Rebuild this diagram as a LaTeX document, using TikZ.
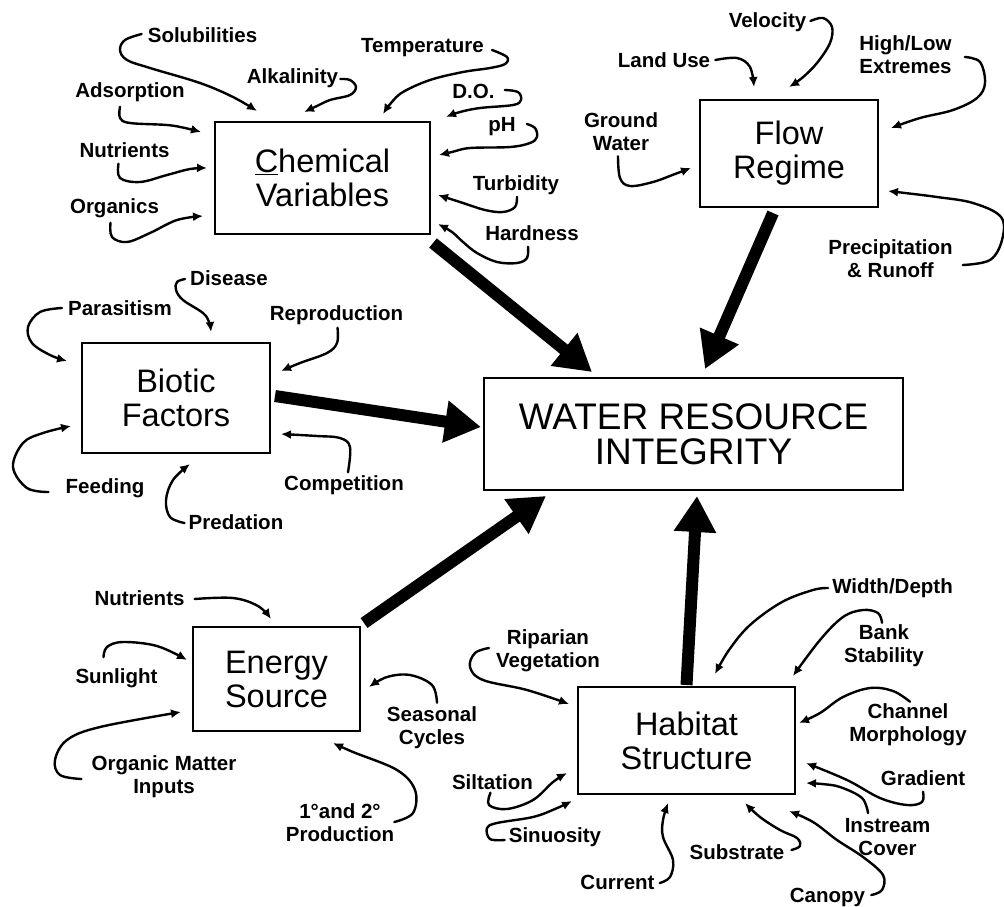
\documentclass[tikz,border=0pt]{standalone}
\usepackage{fontspec}
\setmainfont{Liberation Sans}
\usetikzlibrary{arrows.meta}
\begin{document}
\begin{tikzpicture}[x=1pt,y=-1pt,
  box/.style={draw, line width=2pt, inner sep=0pt, align=center, font=\fontsize{32.5}{34}\selectfont},
  lbl/.style={inner sep=0pt, align=center, font=\fontsize{20.5}{23}\selectfont\bfseries},
  curl/.style={line width=2.4pt, line cap=round, line join=round, -{Latex[length=10pt,width=9pt]}},
  big/.style={line width=12pt, -{Triangle[length=36pt,width=40pt]}}]
\path[fill=white, use as bounding box] (0,0) rectangle (1004,906);

% main boxes
\node[box, minimum width=215pt, minimum height=112pt] (chem) at (322.5,178) {\underline{C}hemical\\Variables};
\node[box, minimum width=178pt, minimum height=107pt] (flow) at (789,153.5) {Flow\\Regime};
\node[box, minimum width=188pt, minimum height=110pt] (biotic) at (176,398) {Biotic\\Factors};
\node[box, minimum width=419pt, minimum height=112pt, font=\fontsize{37}{35}\selectfont] (water) at (693.5,434) {WATER RESOURCE\\INTEGRITY};
\node[box, minimum width=167pt, minimum height=104pt] (energy) at (276.5,679) {Energy\\Source};
\node[box, minimum width=217pt, minimum height=107pt] (habitat) at (686.5,740.5) {Habitat\\Structure};

% thick arrows
\draw[big] ([shift={(2,8)}]chem.south east) -- ([shift={(109,-5)}]water.north west);
\draw[big] ([shift={(-16,5)}]flow.south) -- ([shift={(11.5,-8)}]water.north);
\draw[big] ([shift={(4,-2)}]biotic.east) -- ([shift={(-2,-7)}]water.west);
\draw[big] ([shift={(3,-3)}]energy.north east) -- ([shift={(63,5)}]water.south west);
\draw[big] ([shift={(0,-1)}]habitat.north) -- ([shift={(3.5,5)}]water.south);

% labels: chemical
\node[lbl] (sol) at (202.5,35) {Solubilities};
\node[lbl] (alk) at (292.5,78) {Alkalinity};
\node[lbl] (temp) at (422.5,48) {Temperature};
\node[lbl] (do) at (473.5,91) {D.O.};
\node[lbl] (ph) at (502,127) {pH};
\node[lbl] (turb) at (516,185) {Turbidity};
\node[lbl] (hard) at (532,233) {Hardness};
\node[lbl] (ads) at (130,92) {Adsorption};
\node[lbl] (nuta) at (124.5,150) {Nutrients};
\node[lbl] (org) at (114.5,208) {Organics};
% flow
\node[lbl] (vel) at (767.5,22) {Velocity};
\node[lbl] (land) at (664,60) {Land Use};
\node[lbl] (hilo) at (905.5,55) {High/Low\\Extremes};
\node[lbl] (gw) at (621,132) {Ground\\Water};
\node[lbl] (precip) at (890.5,259) {Precipitation\\\& Runoff};
% biotic
\node[lbl] (para) at (120,308) {Parasitism};
\node[lbl] (dis) at (229,278) {Disease};
\node[lbl] (repro) at (336.5,315) {Reproduction};
\node[lbl] (comp) at (344,485) {Competition};
\node[lbl] (pred) at (236,522) {Predation};
\node[lbl] (feedl) at (105,488) {Feeding};
% energy
\node[lbl] (nutb) at (139.5,598) {Nutrients};
\node[lbl] (sun) at (116.5,678) {Sunlight};
\node[lbl] (omi) at (164,777) {Organic Matter\\Inputs};
\node[lbl] (seas) at (432,728) {Seasonal\\Cycles};
\node[lbl] (prod) at (340,823) {1°and 2°\\Production};
% habitat
\node[lbl] (rip) at (548,651) {Riparian\\Vegetation};
\node[lbl] (silt) at (492.5,782) {Siltation};
\node[lbl] (sinu) at (555,837) {Sinuosity};
\node[lbl] (curr) at (617.5,882) {Current};
\node[lbl] (subs) at (737,852) {Substrate};
\node[lbl] (canopy) at (827.5,897) {Canopy};
\node[lbl] (wd) at (892.5,588) {Width/Depth};
\node[lbl] (bank) at (884,646) {Bank\\Stability};
\node[lbl] (chan) at (908,725) {Channel\\Morphology};
\node[lbl] (grad) at (923,778) {Gradient};
\node[lbl] (inst) at (887.5,837) {Instream\\Cover};

% curly arrows: chemical
\draw[curl] plot[smooth,tension=0.6] coordinates {([shift={(-6,-1)}]sol.west) (125,40) (120,50) (127,60) (150,68) (200,83) (233,97) ([shift={(43,-10)}]chem.north west)};
\draw[curl] plot[smooth,tension=0.6] coordinates {([shift={(2,1)}]alk.east) (350,80) (356,87) (350,95) (330,100) (317,106) ([shift={(90,-9)}]chem.north west)};
\draw[curl] plot[smooth,tension=0.6] coordinates {([shift={(8,2)}]temp.east) (507,57) (505,64) (490,68) (463,72) (430,80) (403,92) (391,103) ([shift={(-48,-7)}]chem.north east)};
\draw[curl] plot[smooth,tension=0.6] coordinates {([shift={(10,-1)}]do.east) (518,92) (521,100) (513,105) (480,108) (460,112) ([shift={(15,-4)}]chem.north east)};
\draw[curl] plot[smooth,tension=0.6] coordinates {([shift={(11,-3)}]ph.east) (535,128) (537,137) (530,143) (510,147) (470,148) (452,152) ([shift={(8,34)}]chem.north east)};
\draw[curl] plot[smooth,tension=0.6] coordinates {([shift={(1,2)}]turb.south) (515,207) (503,212) (485,210) (460,202) ([shift={(7,74)}]chem.north east)};
\draw[curl] plot[smooth,tension=0.6] coordinates {([shift={(-4,6)}]hard.south) (527,258) (517,263) (497,262) (477,253) (463,242) (452,232) ([shift={(7,-11)}]chem.south east)};
\draw[curl] plot[smooth,tension=0.6] coordinates {([shift={(-10,5)}]ads.south) (120,118) (130,123) (167,125) (185,128) ([shift={(-13,11)}]chem.north west)};
\draw[curl] plot[smooth,tension=0.6] coordinates {([shift={(-6,6)}]nuta.south) (120,178) (140,182) (167,175) (190,169) ([shift={(-7,-10)}]chem.west)};
\draw[curl] plot[smooth,tension=0.6] coordinates {([shift={(-4,5)}]org.south) (112,237) (127,242) (150,233) (177,220) ([shift={(-11,-19)}]chem.south west)};
% flow
\draw[curl] plot[smooth,tension=0.6] coordinates {([shift={(4,-1)}]vel.east) (823,18) (832,27) (830,43) (817,63) (802,78) ([shift={(90,-12)}]flow.north west)};
\draw[curl] plot[smooth,tension=0.6] coordinates {([shift={(5,0)}]land.east) (737,58) (750,67) ([shift={(55,-12)}]flow.north west)};
\draw[curl] plot[smooth,tension=0.6] coordinates {([shift={(13,2)}]hilo.east) (980,62) (985,83) (977,98) (953,110) (920,118) ([shift={(12,-25.5)}]flow.east)};
\draw[curl] plot[smooth,tension=0.6] coordinates {([shift={(-3,5)}]gw.south) (620,178) (630,186) (653,182) (675,174) ([shift={(-8,14.5)}]flow.west)};
\draw[curl] plot[smooth,tension=0.6] coordinates {([shift={(10,6)}]precip.east) (990,260) (1002,240) (1001,217) (973,203) (937,197) (905,193) ([shift={(9,-17)}]flow.south east)};
% biotic
\draw[curl] plot[smooth,tension=0.6] coordinates {([shift={(-6,0)}]para.west) (40,312) (28,327) (32,343) (50,355) ([shift={(-14,-37)}]biotic.west)};
\draw[curl] plot[smooth,tension=0.6] coordinates {([shift={(-5,1)}]dis.west) (177,282) (176,290) (183,300) (203,313) (209,322) ([shift={(130,-10)}]biotic.north west)};
\draw[curl] plot[smooth,tension=0.6] coordinates {([shift={(1,3)}]repro.south) (337,343) (327,353) (300,363) ([shift={(10,29)}]biotic.north east)};
\draw[curl] plot[smooth,tension=0.6] coordinates {([shift={(4,-3)}]comp.north) (350,447) (340,438) (317,436) ([shift={(10,-20)}]biotic.south east)};
\draw[curl] plot[smooth,tension=0.6] coordinates {([shift={(-4,1)}]pred.west) (170,517) (166,500) (173,480) ([shift={(14,10)}]biotic.south)};
\draw[curl] plot[smooth,tension=0.6] coordinates {([shift={(-17,4)}]feedl.west) (27,488) (13,467) (23,443) (43,433) ([shift={(-10,-28)}]biotic.south west)};
% energy
\draw[curl] plot[smooth,tension=0.6] coordinates {([shift={(10,1)}]nutb.east) (233,598) (258,606) ([shift={(79,-7)}]energy.north west)};
\draw[curl] plot[smooth,tension=0.6] coordinates {([shift={(-13,-11)}]sun.north) (107,647) (123,642) (157,646) ([shift={(-5,-19)}]energy.west)};
\draw[curl] plot[smooth,tension=0.6] coordinates {([shift={(-10,2)}]omi.west) (60,775) (55,760) (67,740) (100,727) ([shift={(-11,-20)}]energy.south west)};
\draw[curl] plot[smooth,tension=0.6] coordinates {([shift={(5,-4)}]seas.north) (432,685) (410,675) (387,677) ([shift={(8,8)}]energy.east)};
\draw[curl] plot[smooth,tension=0.6] coordinates {([shift={(0,-1)}]prod.east) (413,813) (415,790) (397,770) (353,752) ([shift={(-28,11)}]energy.south east)};
% habitat
\draw[curl] plot[smooth,tension=0.6] coordinates {([shift={(-7,-3)}]rip.west) (475,653) (470,667) (483,680) (527,690) ([shift={(-8,18)}]habitat.north west)};
\draw[curl] plot[smooth,tension=0.6] coordinates {([shift={(-2,3)}]silt.south) (489,805) (507,809) (533,800) (553,782) ([shift={(-10,-22)}]habitat.south west)};
\draw[curl] plot[smooth,tension=0.6] coordinates {([shift={(-4,3)}]sinu.west) (490,839) (487,828) (497,823) (533,817) (555,809) ([shift={(-5,6)}]habitat.south west)};
\draw[curl] plot[smooth,tension=0.6] coordinates {([shift={(5,1)}]curr.east) (670,877) (673,860) (663,837) (663,820) ([shift={(-18.5,8)}]habitat.south)};
\draw[curl] plot[smooth,tension=0.6] coordinates {([shift={(7,-2)}]subs.east) (800,846) (797,838) (780,830) (760,817) ([shift={(58.5,8)}]habitat.south)};
\draw[curl] plot[smooth,tension=0.6] coordinates {([shift={(6,-2)}]canopy.east) (882,890) (883,875) (863,857) (837,840) (813,822) ([shift={(-7,16)}]habitat.south east)};
\draw[curl] plot[smooth,tension=0.6] coordinates {([shift={(-4,0)}]wd.west) (813,590) (782,602) (750,625) (729,650) ([shift={(28.5,-12)}]habitat.north)};
\draw[curl] plot[smooth,tension=0.6] coordinates {([shift={(-2,-2)}]bank.north) (878,613) (863,610) (843,617) (820,640) ([shift={(-3,-10)}]habitat.north east)};
\draw[curl] plot[smooth,tension=0.6] coordinates {([shift={(2,-2)}]chan.north) (893,691) (870,688) (843,697) (820,713) ([shift={(3,-17.5)}]habitat.east)};
\draw[curl] plot[smooth,tension=0.6] coordinates {([shift={(0,6)}]grad.south) (922,802) (907,805) (880,798) (847,780) ([shift={(10,22.5)}]habitat.east)};
\draw[curl] plot[smooth,tension=0.6] coordinates {([shift={(-19.5,-5)}]inst.north) (862,798) (840,787) (822,784) ([shift={(10,-12)}]habitat.south east)};
\end{tikzpicture}
\end{document}
